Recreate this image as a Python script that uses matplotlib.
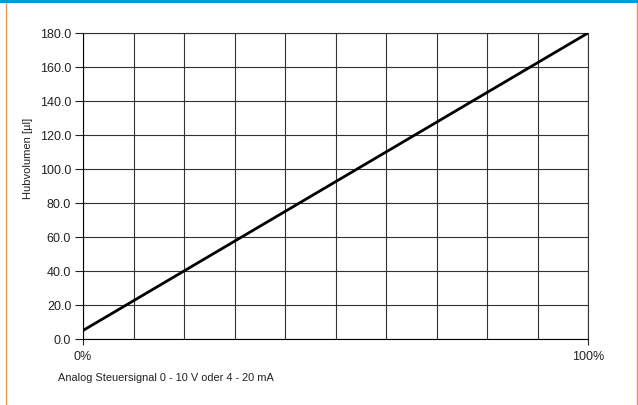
import matplotlib
matplotlib.use("Agg")
import matplotlib.pyplot as plt
from matplotlib.lines import Line2D

# Data
signal_pct = [0, 100]
hubvolumen = [5.0, 180.0]
y_ticks = [0, 20, 40, 60, 80, 100, 120, 140, 160, 180]
x_tick_pos = [0, 100]
x_tick_labels = ["0%", "100%"]
x_grid = [0, 10, 20, 30, 40, 50, 60, 70, 80, 90, 100]

plt.rcParams['font.family'] = ['Liberation Sans', 'DejaVu Sans']

W, H = 638, 405
fig = plt.figure(figsize=(W / 100, H / 100), dpi=100)
L, R, T, B = 83, 588, 33, 339
ax = fig.add_axes([L / W, 1 - B / H, (R - L) / W, (B - T) / H])

ax.set_xlim(0, 100)
ax.set_ylim(0, 180)

for x in x_grid:
    ax.axvline(x, color='#333333', lw=0.8, zorder=1)
for y in y_ticks:
    ax.axhline(y, color='#333333', lw=0.8, zorder=1)

ax.plot(signal_pct, hubvolumen, color='black', lw=2.0, zorder=3,
        solid_capstyle='butt')

ax.set_yticks(y_ticks)
ax.set_yticklabels([f"{v:.1f}" for v in y_ticks])
ax.set_xticks(x_tick_pos)
ax.set_xticklabels(x_tick_labels)
ax.tick_params(axis='both', direction='out', width=0.8,
               labelsize=9, colors='#222222')
ax.tick_params(axis='y', length=5.5, pad=3)
ax.tick_params(axis='x', length=4.5, pad=4)
for s in ax.spines.values():
    s.set_color('#333333')
    s.set_linewidth(0.8)
ax.spines['left'].set_color('black')
ax.spines['bottom'].set_color('black')

fig.text(28.5 / W, 1 - 158 / H, "Hubvolumen [µl]", rotation=90,
         ha='center', va='center', fontsize=8, color='#222222')
fig.text(58 / W, 1 - 378 / H, "Analog Steuersignal 0 - 10 V oder 4 - 20 mA",
         ha='left', va='center', fontsize=7.9, color='#222222')

# Frame decorations
fig.add_artist(plt.Rectangle((0, 1 - 3 / H), 1, 3 / H, transform=fig.transFigure,
                             color='#0099DA', lw=0))
fig.add_artist(Line2D([5.5 / W, 5.5 / W], [0, 1 - 3 / H], transform=fig.transFigure,
                      color='#E39A55', lw=1.0))
fig.add_artist(Line2D([636.5 / W, 636.5 / W], [0, 1 - 3 / H], transform=fig.transFigure,
                      color='#E39A55', lw=1.0))

fig.savefig("out.png", dpi=100)
